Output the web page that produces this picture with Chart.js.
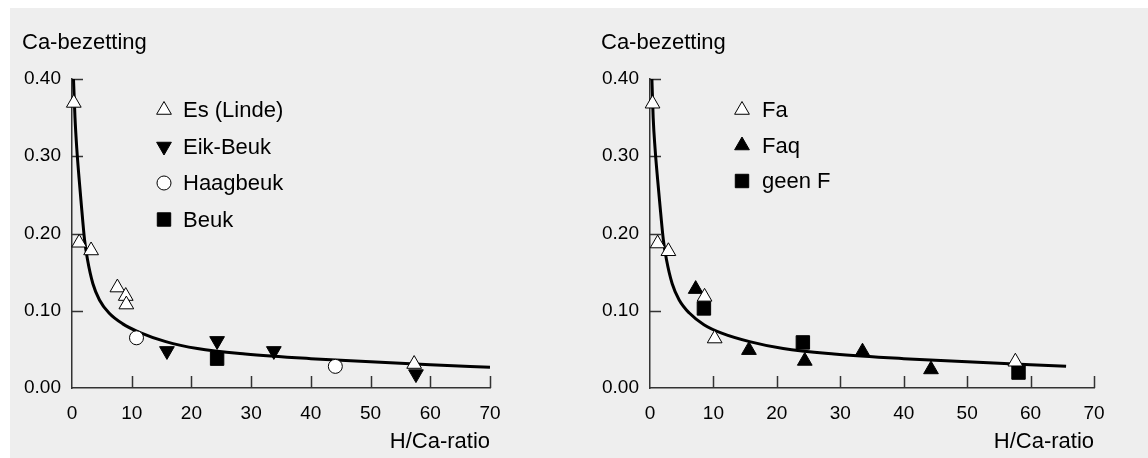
<!DOCTYPE html>
<html>
<head>
<meta charset="utf-8">
<title>Ca-bezetting en H/Ca-ratio</title>
<script src="https://cdn.jsdelivr.net/npm/chart.js@4/dist/chart.umd.min.js"></script>
<style>
  body { margin: 0; background: #fff; font-family: "Liberation Sans", Arial, sans-serif; }
  #panel { position: absolute; left: 10px; top: 8px; width: 1138px; height: 450px; background: #eeeeee; }
  .box { position: absolute; top: 0; width: 574px; height: 458px; }
</style>
</head>
<body>
<div id="panel"></div>
<div class="box" style="left:0"><canvas id="chartLeft" width="574" height="458"></canvas></div>
<div class="box" style="left:574px"><canvas id="chartRight" width="574" height="458"></canvas></div>

<script>
// axis ticks
var xTicks = [0, 10, 20, 30, 40, 50, 60, 70];
var yTicks = [0, 0.1, 0.2, 0.3, 0.4];

// left chart: fitted curve
var curveLeftX = [0.25, 0.5, 0.8, 1.2, 1.5, 2.1, 2.6, 3.5, 4.6, 6.2, 8.5, 11.3, 15.7, 21, 29, 40, 50, 60, 70];
var curveLeftY = [0.40, 0.35, 0.31, 0.27, 0.243, 0.192, 0.166, 0.135, 0.114, 0.097, 0.083, 0.072, 0.060, 0.051, 0.044, 0.038, 0.034, 0.030, 0.027];

// left chart: measurements
var esX = [0.3, 1.2, 3.2, 7.6, 9.0, 9.1, 57.3];
var esY = [0.369, 0.188, 0.178, 0.130, 0.119, 0.108, 0.031];
var eikX = [15.9, 24.3, 33.8, 57.6];
var eikY = [0.048, 0.061, 0.048, 0.018];
var haagX = [10.8, 44.1];
var haagY = [0.065, 0.028];
var beukX = [24.3];
var beukY = [0.038];

// right chart: fitted curve
var curveRightX = [0.3, 0.5, 0.8, 1.2, 1.5, 2.1, 2.6, 3.5, 4.6, 6.2, 8.5, 11.3, 15.7, 21, 29, 40, 50, 60, 65.6];
var curveRightY = [0.40, 0.35, 0.31, 0.27, 0.243, 0.192, 0.166, 0.135, 0.114, 0.097, 0.082, 0.071, 0.060, 0.051, 0.044, 0.038, 0.034, 0.030, 0.028];

// right chart: measurements
var faX = [0.4, 1.2, 2.9, 8.6, 10.2, 57.6];
var faY = [0.368, 0.187, 0.177, 0.118, 0.064, 0.034];
var faqX = [7.2, 15.6, 24.4, 33.5, 44.3];
var faqY = [0.128, 0.049, 0.035, 0.047, 0.024];
var geenX = [8.5, 24.1, 58.1];
var geenY = [0.103, 0.059, 0.020];

function pts(xs, ys) {
  return xs.map(function (x, i) { return { x: x, y: ys[i] }; });
}

var FONT = "'Liberation Sans', Arial, sans-serif";

function curveSet(xs, ys) {
  return {
    type: 'line', data: pts(xs, ys), borderColor: '#000', borderWidth: 3,
    pointRadius: 0, cubicInterpolationMode: 'monotone', fill: false, clip: false, order: 2
  };
}

function markerSet(label, xs, ys, style, fill, radius, rotation) {
  return {
    type: 'scatter', label: label, data: pts(xs, ys),
    pointStyle: style, pointRadius: radius, pointHoverRadius: radius,
    pointRotation: rotation || 0,
    pointBackgroundColor: fill, pointBorderColor: '#000', pointBorderWidth: 1,
    clip: false, order: 1, showInLegend: true
  };
}

// inward tick marks, drawn through the chart's own scales
var innerTicks = {
  id: 'innerTicks',
  beforeDatasetsDraw: function (chart) {
    var ctx = chart.ctx, x = chart.scales.x, y = chart.scales.y;
    ctx.save();
    ctx.strokeStyle = '#333';
    ctx.lineWidth = 1.5;
    ctx.beginPath();
    xTicks.forEach(function (v) {
      if (v === 0) return;
      var px = Math.round(x.getPixelForValue(v)) + 0.5;
      ctx.moveTo(px, y.bottom);
      ctx.lineTo(px, y.bottom - 12);
    });
    yTicks.forEach(function (v) {
      if (v === 0) return;
      var py = Math.round(y.getPixelForValue(v)) + 0.5;
      ctx.moveTo(x.left, py);
      ctx.lineTo(x.left + 11, py);
    });
    ctx.stroke();
    ctx.restore();
  }
};

// legend placed inside the plot, same marker drawing as the points
var markerLegend = {
  id: 'markerLegend',
  afterDraw: function (chart, args, opts) {
    var ctx = chart.ctx;
    var sets = chart.data.datasets.filter(function (d) { return d.showInLegend; });
    ctx.save();
    ctx.font = '22px ' + FONT;
    ctx.textBaseline = 'middle';
    ctx.textAlign = 'left';
    sets.forEach(function (d, i) {
      var yy = opts.top + i * opts.gap;
      ctx.fillStyle = d.pointBackgroundColor;
      ctx.strokeStyle = d.pointBorderColor;
      ctx.lineWidth = d.pointBorderWidth;
      Chart.helpers.drawPoint(ctx, {
        pointStyle: d.pointStyle, radius: d.pointRadius,
        rotation: d.pointRotation, borderWidth: d.pointBorderWidth
      }, opts.markerX, yy);
      ctx.fillStyle = '#000';
      ctx.fillText(d.label, opts.textX, yy + 1);
    });
    ctx.restore();
  }
};

function makeOptions(padLeft, yWidth, padRight, legendOpts) {
  return {
    responsive: false,
    animation: false,
    events: [],
    layout: { padding: { left: padLeft, right: padRight, top: 0, bottom: 0 } },
    plugins: {
      legend: { display: false },
      tooltip: { enabled: false },
      title: {
        display: true, text: 'Ca-bezetting', align: 'start', color: '#000',
        font: { family: FONT, size: 22, weight: 'normal' },
        padding: { top: 30, bottom: 22.6 }
      },
      markerLegend: legendOpts
    },
    scales: {
      x: {
        type: 'linear', min: 0, max: 70,
        afterBuildTicks: function (s) { s.ticks = xTicks.map(function (v) { return { value: v }; }); },
        afterFit: function (s) { s.height = 70; },
        ticks: { color: '#000', padding: 14, font: { family: FONT, size: 19 }, maxRotation: 0 },
        grid: { display: false, drawTicks: false },
        border: { display: true, color: '#333', width: 1.5 },
        title: {
          display: true, text: 'H/Ca-ratio', align: 'end', color: '#000',
          font: { family: FONT, size: 22 }, padding: { top: 0, bottom: 3 }
        }
      },
      y: {
        type: 'linear', min: 0, max: 0.4,
        afterBuildTicks: function (s) { s.ticks = yTicks.map(function (v) { return { value: v }; }); },
        afterFit: function (s) { s.width = yWidth; },
        ticks: {
          color: '#000', padding: 11, font: { family: FONT, size: 19 },
          callback: function (v) { return Number(v).toFixed(2); }
        },
        grid: { display: false, drawTicks: false },
        border: { display: true, color: '#333', width: 1.5 }
      }
    }
  };
}

new Chart(document.getElementById('chartLeft'), {
  data: {
    datasets: [
      curveSet(curveLeftX, curveLeftY),
      markerSet('Es (Linde)', esX, esY, 'triangle', '#fff', 8.5),
      markerSet('Eik-Beuk', eikX, eikY, 'triangle', '#000', 8.5, 180),
      markerSet('Haagbeuk', haagX, haagY, 'circle', '#fff', 7),
      markerSet('Beuk', beukX, beukY, 'rect', '#000', 9.5)
    ]
  },
  options: makeOptions(22, 50, 84, { markerX: 164, textX: 183, top: 110, gap: 36.5 }),
  plugins: [innerTicks, markerLegend]
});

new Chart(document.getElementById('chartRight'), {
  data: {
    datasets: [
      curveSet(curveRightX, curveRightY),
      markerSet('Fa', faX, faY, 'triangle', '#fff', 8.5),
      markerSet('Faq', faqX, faqY, 'triangle', '#000', 8.5),
      markerSet('geen F', geenX, geenY, 'rect', '#000', 9.5)
    ]
  },
  options: makeOptions(27, 49, 54, { markerX: 168, textX: 188, top: 110, gap: 35.5 }),
  plugins: [innerTicks, markerLegend]
});
</script>
</body>
</html>
